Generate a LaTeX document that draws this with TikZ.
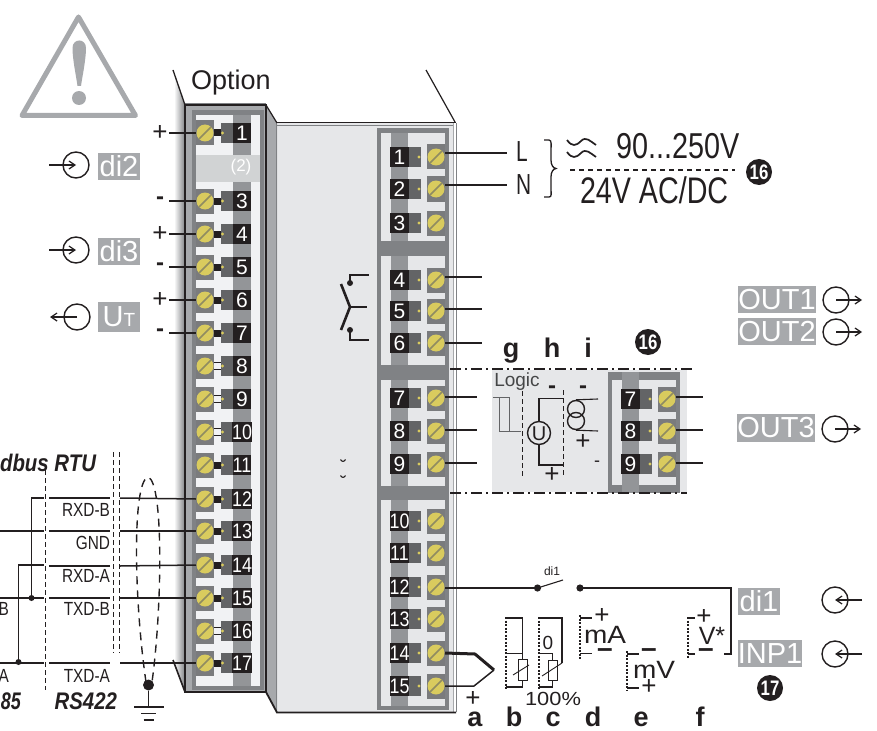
\documentclass[tikz,border=0pt]{standalone}
\usepackage{fontspec}
\setmainfont{Liberation Sans}
\usetikzlibrary{arrows.meta,calc,shadings}
\definecolor{lbl}{HTML}{A7A9AC}
\definecolor{frameD}{HTML}{808285}
\definecolor{stripe}{HTML}{939598}
\definecolor{tdark}{HTML}{636466}
\definecolor{nblack}{HTML}{231F20}
\definecolor{inL}{HTML}{F1F2F4}
\definecolor{bodyc}{HTML}{E6E7E9}
\definecolor{band}{HTML}{D1D3D4}
\definecolor{screwc}{HTML}{D9CB5E}
\definecolor{slot}{HTML}{8F8B62}
\newcommand\fs[1]{\fontsize{#1}{#1}\selectfont}
\newcommand\cnd[2]{\scalebox{#1}[1]{#2}}
\tikzset{
  txt/.style={inner sep=0pt,outer sep=0pt,text=nblack},
  sqbox/.style={fill=tdark!85,minimum width=18pt,minimum height=25pt,inner sep=0pt,outer sep=0pt},
  numbox/.style={fill=nblack,text=white,minimum width=18.5pt,minimum height=20pt,inner sep=0pt,font=\fs{21}},
  dkbox/.style={fill=tdark,minimum width=12.5pt,minimum height=20pt,inner sep=0pt},
  tagbox/.style={fill=lbl,text=white,inner sep=0pt,font=\fs{29}},
  wire/.style={nblack,line width=1.5pt},
  thin wire/.style={nblack,line width=1.1pt},
  dotdash/.style={nblack,line width=1.3pt,dash pattern=on 11pt off 4pt on 2pt off 4pt},
  vdash/.style={nblack,line width=.9pt,dash pattern=on 5pt off 3pt},
  fdot/.style={nblack,line width=1.1pt,dash pattern=on 2pt off 1.5pt},
  circ/.style={draw=nblack,line width=1.4pt,circle,minimum size=26pt,inner sep=0pt},
  arr/.style={nblack,line width=1.2pt,-{Straight Barb[length=6pt,width=8pt]}},
  bubble/.style={fill=nblack,circle,minimum size=26pt,inner sep=0pt,text=white,font=\bfseries\fs{21}},
  letter/.style={txt,font=\bfseries\fs{27},anchor=base},
  plus/.style={txt,font=\fs{26}},
  minus/.style={txt,font=\bfseries\fs{24}},
  wminus/.style={txt,font=\bfseries\fs{28}},
}
\newcommand\screwhead[3]{%
  \node[sqbox] (#1) at (#2,#3) {};
  \fill[screwc] (#2,#3) circle (8.5pt);
  \draw[slot,line width=1.7pt] (#2-6,#3+6) -- (#2+6,#3-6);
}
% left terminal: number, y, connector fill
\newcommand\lterm[3]{%
  \screwhead{ls#1}{205}{#2}
  \ifnum#3=1
    \fill[nblack] (214,#2-3.5) rectangle (221.5,#2+3.5);
  \else
    \draw[nblack,line width=.8pt] (214,#2-3.5) -- (221.5,#2-3.5) (214,#2+3.5) -- (221.5,#2+3.5);
  \fi
  \node[dkbox] (ld#1) at (227.3,#2) {};
  \fill[screwc] (222.5,#2) circle (1.6pt);
  \node[numbox] (ln#1) at (242,#2) {\ifnum#1>9 \cnd{.85}{#1}\else #1\fi};
}
% right terminal with origin x of number box
\newcommand\rterm[4]{% prefix, number, xnum, y
  \node[numbox] (#1n#2) at (#3,#4) {\ifnum#2>9 \cnd{.85}{#2}\else #2\fi};
  \node[dkbox] (#1d#2) at (#3+15.3,#4) {};
  \fill[screwc] (#3+19.5,#4) circle (1.6pt);
  \screwhead{#1s#2}{#3+36.5}{#4}
}
\begin{document}
\begin{tikzpicture}[x=1pt,y=-1pt]
\useasboundingbox (0,0) rectangle (877,730);
% warning triangle
\draw[lbl,line width=5pt,line join=round] (78.5,17) -- (22,115.5) -- (135.5,115.5) -- cycle;
\fill[lbl] (72.5,48) .. controls (72.5,38) and (86,38) .. (86,48) .. controls (86,60) and (82,78) .. (81,86) -- (77.5,86) .. controls (76.5,78) and (72.5,60) .. (72.5,48) -- cycle;
\fill[lbl] (79,98) circle (7pt);
% Option
\node[txt,font=\fs{27},anchor=base west] (opt) at (191,90) {Option};
% left shadow
\path[left color=white,right color=frameD] (174,72) -- (185,105) -- (185,692) -- (174,662) -- cycle;
% body
\fill[bodyc] (277,123) rectangle (453,712);
\fill[white] (453,123) rectangle (456,712);
\draw[lbl,line width=1pt] (453,123) -- (453,712);
\draw[frameD,line width=1pt] (456,123) -- (456,712);
\fill[lbl] (266,105) -- (277,123) -- (277,712) -- (266,692) -- cycle;
\draw[frameD,line width=1pt] (276.5,123) -- (276.5,712);
\draw[nblack,line width=1.4pt] (277,122.5) -- (456,122.5);
\draw[frameD,line width=.8pt] (277,125) -- (453,125);
\draw[nblack,line width=1.8pt] (266,692) -- (277,712.5) -- (456,712.5);
\draw[nblack,line width=1.2pt] (426,70) -- (455,122);
\draw[nblack,line width=1.2pt] (266,105) -- (277,123);
% option module frame
\fill[lbl] (185,105) rectangle (266,692);
\fill[frameD] (192,110) rectangle (264,690);
\fill[inL] (196,115) rectangle (260,686);
\fill[stripe] (233,115) rectangle (251,686);
\draw[frameD,line width=.8pt] (185,103) -- (266,103);
\draw[nblack,line width=1.5pt] (185,105) rectangle (266,692);
\draw[nblack,line width=1.3pt] (173,70) -- (185,105);
\draw[nblack,line width=1.6pt] (173,660) -- (185,692);
\fill[band] (196,155) rectangle (260,182);
\node[txt,text=white,font=\fs{17}] (opt2) at (241,167) {(2)};
% left terminals
\lterm{1}{133}{1}
\lterm{3}{201}{1}
\lterm{4}{234}{1}
\lterm{5}{267}{1}
\lterm{6}{300}{1}
\lterm{7}{333}{1}
\lterm{8}{366}{0}
\lterm{9}{399}{0}
\lterm{10}{432}{0}
\lterm{11}{465}{1}
\lterm{12}{499}{1}
\lterm{13}{531}{1}
\lterm{14}{565}{1}
\lterm{15}{598}{1}
\lterm{16}{631}{0}
\lterm{17}{663}{1}
% right panels
\fill[frameD] (377,128) rectangle (449,710);
\fill[bodyc] (381,133) rectangle (445,241);
\fill[bodyc] (381,256) rectangle (445,365);
\fill[bodyc] (381,380) rectangle (445,486);
\fill[bodyc] (381,500) rectangle (445,706);
\foreach \a/\b in {133/241,256/365,380/486,500/706}{\fill[stripe] (391,\a) rectangle (408,\b);}
\rterm{r}{1}{399.5}{157}
\rterm{r}{2}{399.5}{189}
\rterm{r}{3}{399.5}{223}
\rterm{r}{4}{399.5}{280}
\rterm{r}{5}{399.5}{311}
\rterm{r}{6}{399.5}{343}
\rterm{r}{7}{399.5}{398}
\rterm{r}{8}{399.5}{431}
\rterm{r}{9}{399.5}{464}
\rterm{r}{10}{399.5}{521}
\rterm{r}{11}{399.5}{553}
\rterm{r}{12}{399.5}{587}
\rterm{r}{13}{399.5}{619}
\rterm{r}{14}{399.5}{653}
\rterm{r}{15}{399.5}{686}
% tiny marks
\draw[nblack,line width=1.1pt] (340.5,459.5) .. controls (342,462) and (344,462) .. (345.5,459.5);
\draw[nblack,line width=1.1pt] (340.5,475.5) .. controls (342,478) and (344,478) .. (345.5,475.5);
% relay contact
\coordinate (cA) at (369,275); \coordinate (cB) at (367,307); \coordinate (cC) at (369,340);
\fill[nblack] (350,283) circle (3pt) (350,330) circle (3pt);
\draw[thin wire] (350,283) -- (350,275) -- (cA);
\draw[thin wire] (350,330) -- (350,340) -- (cC);
\draw[nblack,line width=2.6pt] (341,284) -- (350,307) -- (341,330);
\draw[thin wire] (350,307) -- (cB);
% wires right side
\coordinate (eL) at (507,153); \coordinate (eN) at (507,185);
\draw[wire] (rs1.east |- eL) -- (eL);
\draw[wire] (rs2.east |- eN) -- (eN);
\node[txt,font=\fs{29},anchor=west] (tL) at (516,152) {\cnd{.72}{L}};
\node[txt,font=\fs{29},anchor=west] (tN) at (516,185) {\cnd{.72}{N}};
\draw[nblack,line width=1.3pt] (544,140) -- (549,140) .. controls (552,140) and (551,146) .. (551,150) -- (551,160) .. controls (551,165) and (553,168) .. (556,168.5) .. controls (553,169) and (551,172) .. (551,177) -- (551,188) .. controls (551,194) and (552,197) .. (549,197) -- (544,197);
\draw[nblack,line width=1.7pt] (567,140) .. controls (572,147) and (576,146) .. (581,141) .. controls (586,136) and (590,141) .. (596,145);
\draw[nblack,line width=1.7pt] (567,152) .. controls (572,159) and (576,158) .. (581,153) .. controls (586,148) and (590,153) .. (596,157);
\node[txt,font=\fs{36},anchor=base west] (t90) at (616,159) {\cnd{.8}{90...250V}};
\draw[nblack,line width=1.1pt,dash pattern=on 5pt off 4pt] (570,170) -- (735,170);
\node[txt,font=\fs{37},anchor=base west] (t24) at (580,204) {\cnd{.775}{24V AC/DC}};
\node[bubble] (b16a) at (759,172) {\cnd{.8}{16}};
\foreach \n/\y in {4/277,5/309,6/343}{\coordinate (e\n) at (482,\y); \draw[wire] (rs\n.east |- e\n) -- (e\n);}
\foreach \n/\y in {7/397,8/430,9/463}{\coordinate (e\n) at (477,\y); \draw[wire] (rs\n.east |- e\n) -- (e\n);}
% OUT labels
\node[tagbox,minimum width=78pt,minimum height=27pt] (out1) at (777,299.5) {OUT1};
\node[tagbox,minimum width=78pt,minimum height=27pt] (out2) at (777,331.5) {OUT2};
\node[tagbox,minimum width=78pt,minimum height=28pt] (out3) at (776,428) {OUT3};
\foreach \n/\x/\y in {a/836/300,b/836/332,c/835/429}{
  \node[circ] (oc\n) at (\x,\y) {};
  \coordinate (oe\n) at (\x+26,\y);
  \draw[arr] (oc\n.center) -- (oe\n);
}
% option block
\fill[bodyc] (492,370) rectangle (687,492);
\fill[frameD] (608,372) rectangle (680,493);
\fill[bodyc] (612,380) rectangle (676,485);
\fill[stripe] (622,372) rectangle (639,493);
\fill[frameD] (612,485) rectangle (622,493);
\fill[frameD] (639,485) rectangle (676,493);
\rterm{o}{7}{630.5}{399}
\rterm{o}{8}{630.5}{431}
\rterm{o}{9}{630.5}{464}
\foreach \n/\y in {7/397,8/430,9/463}{\coordinate (f\n) at (703,\y); \draw[wire] (os\n.east |- f\n) -- (f\n);}
\coordinate (da) at (450,369); \coordinate (db) at (692,369); \coordinate (dc) at (450,493); \coordinate (dd) at (687,493);
\draw[dotdash] (da) -- (db);
\draw[dotdash] (dc) -- (dd);
\node[letter] (lg) at (511,357) {g};
\node[letter] (lh) at (552,357) {h};
\node[letter] (li) at (588,357) {i};
\node[bubble] (b16b) at (648,342) {\cnd{.8}{16}};
\node[txt,font=\fs{19},text=tdark!70!black] (logic) at (517,381.5) {Logic};
\draw[tdark,line width=.9pt] (493,397) -- (509,397) -- (509,431) -- (521,431) (499,397) -- (499,431) -- (509,431);
\draw[vdash] (522,391) -- (522,476);
\draw[vdash] (563,390) -- (563,476);
\node[circ,minimum size=23pt] (srcU) at (539,433) {};
\node[txt,font=\fs{20}] (tU) at (539,433.5) {U};
\coordinate (ua) at (563,398.5); \coordinate (ub) at (563,465);
\draw[wire] (srcU.north) -- (539,398.5) -- (ua);
\draw[wire] (srcU.south) -- (539,465) -- (ub);
\node[minus] (m1) at (552,390) {-};
\node[plus] (p1) at (552,475) {+};
\node[circ,minimum size=17pt] (si1) at (576,409) {};
\node[circ,minimum size=17pt] (si2) at (576,421) {};
\coordinate (ia) at (598,399); \coordinate (ib) at (598,431);
\draw[thin wire] (si1.north) -- (ia);
\draw[thin wire] (si2.south) -- (ib);
\node[minus] (m2) at (583,390) {-};
\node[plus] (p2) at (583,442) {+};
\node[txt,font=\fs{18}] (m3) at (597,464) {-};
% di1 switch
\coordinate (sw0) at (537.5,588); \coordinate (sw1) at (580,588); \coordinate (swt) at (563,580);
\coordinate (swe) at (724,654);
\draw[wire] (rs12.east |- sw0) -- (sw0);
\fill[nblack] (sw0) circle (3.6pt) (sw1) circle (3.6pt);
\draw[thin wire] (sw0) -- (swt);
\node[txt,font=\fs{12}] (tdi1s) at (552,571) {di1};
\draw[wire] (sw1) -- (731,588) -- (731,654) -- (swe);
\node[tagbox,minimum width=42pt,minimum height=27pt] (tdi1) at (759,601.5) {di1};
\node[tagbox,minimum width=64pt,minimum height=27pt] (tinp) at (770,653.5) {INP1};
\foreach \n/\y in {a/600,b/654}{
  \node[circ] (ic\n) at (835,\y) {};
  \coordinate (ie\n) at (862,\y);
  \draw[arr] (ie\n) -- (ic\n.center);
}
\node[bubble] (b17) at (770,688) {\cnd{.8}{17}};
% a thermocouple
\coordinate (tc0) at (475,654); \coordinate (tc1) at (494,670); \coordinate (tc2) at (474,686);
\draw[nblack,line width=3pt,line join=round] (rs14.east) -- (tc0) -- (tc1);
\draw[nblack,line width=1.5pt,line join=round] (tc1) -- (tc2) -- (rs15.east |- tc2);
\node[plus] (pa) at (473,699) {+};
% b
\draw[fdot] (506,617) -- (506,690);
\node[draw=nblack,fill=white,line width=.9pt,minimum width=9pt,minimum height=21pt,inner sep=0pt] (rb) at (522.5,669.5) {};
\coordinate (ba) at (506,618); \coordinate (bb) at (506,653.5); \coordinate (bc) at (506,687);
\draw[thin wire] (ba) -- (522.5,618) -- (rb.north);
\draw[thin wire] (bb) -- (522.5,653.5);
\draw[thin wire] (rb.south) -- (522.5,687) -- (bc);
\draw[nblack,line width=.9pt] (513,675) -- (529,665);
% c
\draw[fdot] (539,617) -- (539,689);
\node[draw=nblack,fill=white,line width=.9pt,minimum width=9pt,minimum height=20pt,inner sep=0pt] (rc) at (552.5,670) {};
\coordinate (ca) at (539,618); \coordinate (cb) at (539,653.5); \coordinate (cc) at (539,687); \coordinate (cd) at (562,663);
\draw[thin wire] (ca) -- (562,618) -- (cd);
\draw[thin wire] (cb) -- (552.5,653.5) -- (rc.north);
\draw[thin wire] (rc.south) -- (552.5,687) -- (cc);
\draw[nblack,line width=.9pt] (542,676) -- (cd);
\node[txt,font=\fs{19}] (t0) at (548,643) {0};
\node[txt,font=\fs{19}] (t100) at (553,699) {\scalebox{1.15}[1]{100\%}};
% d
\draw[fdot] (580,615) -- (580,659);
\coordinate (da1) at (580,618); \coordinate (da2) at (580,653.5);
\draw[thin wire] (da1) -- (592,618);
\draw[thin wire] (da2) -- (592,653.5);
\node[plus] (pd) at (602,616) {+};
\node[txt,font=\fs{25}] (tmA) at (605,635) {\scalebox{1.12}[1]{mA}};
\node[wminus] (md) at (605,653.5) {--};
% e
\draw[fdot] (627,651) -- (627,690);
\coordinate (ea1) at (627,654); \coordinate (ea2) at (627,688);
\draw[thin wire] (ea1) -- (639,654);
\draw[thin wire] (ea2) -- (639,688);
\node[wminus] (me) at (649,653.5) {--};
\node[txt,font=\fs{25}] (tmV) at (654,670) {\scalebox{1.12}[1]{mV}};
\node[plus] (pe) at (649,687) {+};
% f
\draw[fdot] (688,617) -- (688,658);
\coordinate (fa1) at (688,618); \coordinate (fa2) at (688,654);
\draw[thin wire] (fa1) -- (695,618);
\draw[thin wire] (fa2) -- (695,654);
\node[plus] (pf) at (704,617) {+};
\node[txt,font=\fs{25}] (tVs) at (712,636) {V*};
\node[wminus] (mf) at (706,653.5) {--};
% letters a-f
\node[letter] (la) at (475,726) {a};
\node[letter] (lb) at (514,726) {b};
\node[letter] (lc) at (553,726) {c};
\node[letter] (ld) at (593,726) {d};
\node[letter] (le) at (641,726) {e};
\node[letter] (lf) at (700,726) {f};
% left inputs
\foreach \n/\yy/\s/\sty in {1/133/+/plus,3/201/-/minus,4/234/+/plus,5/267/-/minus,6/300/+/plus,7/333/-/minus}{
  \node[\sty] (sg\n) at (160,\yy) {\s};
  \coordinate (lw\n) at (169,\yy);
  \draw[wire] (lw\n) -- (ls\n.west);
}
\node[tagbox,minimum width=42pt,minimum height=27pt] (tdi2) at (119,166.5) {di2};
\node[tagbox,minimum width=42pt,minimum height=27pt] (tdi3) at (119,251.5) {di3};
\node[tagbox,minimum width=42pt,minimum height=30pt] (tut) at (119,317) {U{\fs{19}T}};
\node[circ] (cdi2) at (76,165) {}; \coordinate (edi2) at (49,165);
\draw[arr] (edi2) -- (cdi2.center);
\node[circ] (cdi3) at (76,250) {}; \coordinate (edi3) at (49,250);
\draw[arr] (edi3) -- (cdi3.center);
\node[circ] (cut) at (77,317) {}; \coordinate (eut) at (50,317);
\draw[arr] (cut.center) -- (eut);
% modbus
\node[txt,font=\bfseries\itshape\fs{24},anchor=base east] (tmb) at (96,471) {\cnd{.85}{dbus RTU}};
\draw[vdash] (45,470) -- (45,690);
\draw[vdash] (113,452) -- (113,653);
\draw[vdash] (119,452) -- (119,653);
\foreach \n/\yy in {12/498,13/531,14/566,15/598,17/663}{
  \coordinate (mA\n) at (49,\yy); \coordinate (mB\n) at (110,\yy); \coordinate (mC\n) at (120,\yy);
  \draw[wire,line width=1.8pt] (mA\n) -- (mB\n);
  \draw[wire] (mC\n) -- (ls\n.west);
}
\coordinate (w0) at (0,531); \coordinate (w1) at (44,531);
\draw[wire] (w0) -- (w1);
\coordinate (w2) at (0,598); \coordinate (w3) at (44,598);
\draw[wire] (w2) -- (w3);
\coordinate (w4) at (0,663); \coordinate (w5) at (44,663);
\draw[wire] (w4) -- (w5);
\coordinate (w6) at (44,498); \coordinate (w7) at (44,565);
\draw[wire] (w6) -- (31.5,498) -- (31.5,598);
\draw[wire] (w7) -- (18.5,565) -- (18.5,663);
\fill[nblack] (31.5,598) circle (3pt) (18.5,662) circle (3pt);
\foreach \n/\t/\yy in {a/RXD-B/510,b/GND/543,c/RXD-A/576,d/TXD-B/609,e/TXD-A/676}{
  \node[txt,font=\fs{19},anchor=east] (sig\n) at (110,\yy) {\cnd{.81}{\t}};
}
\node[txt,font=\fs{19},anchor=east] (sB) at (9,609) {\cnd{.81}{B}};
\node[txt,font=\fs{19},anchor=east] (sA) at (9,676) {\cnd{.81}{A}};
\node[txt,font=\bfseries\itshape\fs{24},anchor=base east] (t85) at (21,709) {\cnd{.75}{85}};
\node[txt,font=\bfseries\itshape\fs{24},anchor=base east] (t422) at (117,709) {\cnd{.85}{RS422}};
% shield
\draw[nblack,line width=1.4pt,dash pattern=on 8pt off 6pt] (146,682) .. controls (134,600) and (132,482) .. (148,477) .. controls (164,482) and (162,610) .. (152,682);
\node[fill=nblack,circle,minimum size=11pt,inner sep=0pt] (gnd) at (148.5,685) {};
\coordinate (g1) at (148.5,707);
\draw[thin wire] (gnd) -- (g1);
\draw[thin wire] (134,707) -- (164,707) (141,713.5) -- (156,713.5) (143.5,720) -- (153.5,720);
\end{tikzpicture}
\end{document}
